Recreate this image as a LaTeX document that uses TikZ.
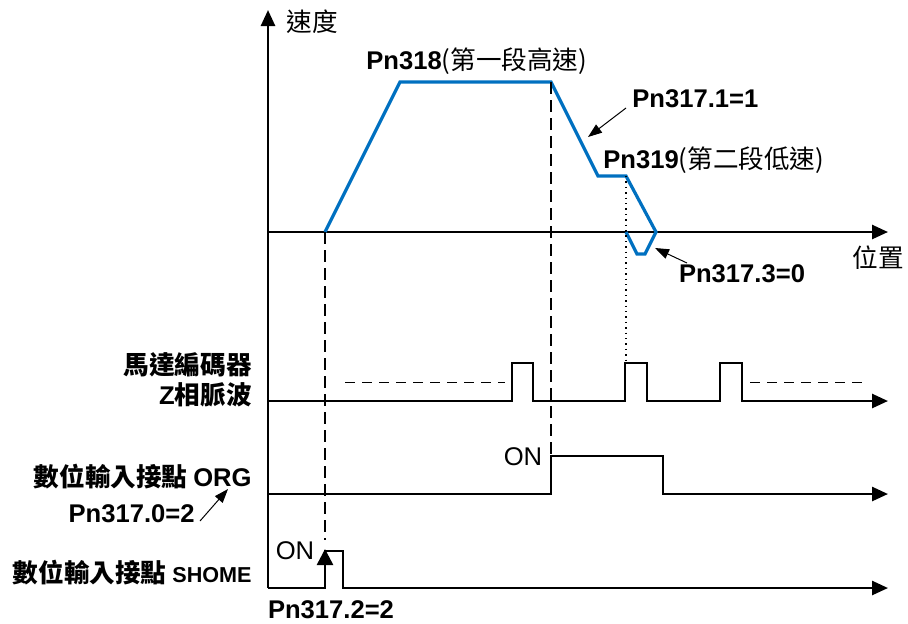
\documentclass[tikz,border=0pt]{standalone}
\usepackage{fontspec}
\setmainfont{Liberation Sans}
\newfontfamily\cjk{Noto Sans CJK TC}
\usetikzlibrary{arrows.meta}
\definecolor{speedblue}{RGB}{0,112,192}

\begin{document}
\begin{tikzpicture}[
        x=0.5pt,
        y=-0.5pt,
        axisline/.style={
            line width=1.3pt,
            -{Triangle[length=8pt,width=7pt]}
        },
        speedline/.style={
            line width=1.6pt,
            draw=speedblue
        },
        guideline/.style={
            line width=1pt,
            dash pattern=on 6pt off 3pt
        },
        levelline/.style={
            line width=0.5pt,
            dash pattern=on 5pt off 3.5pt
        },
        noteline/.style={
            line width=0.5pt,
            -{Triangle[length=7pt,width=5pt]}
        },
        pnlabel/.style={
            inner sep=0pt,
            font=\fontsize{12.8}{15}\selectfont\bfseries
        },
        sidelabel/.style={
            inner sep=0pt,
            align=right,
            anchor=east,
            font=\fontsize{12.8}{15}\selectfont\bfseries
        },
        onlabel/.style={
            inner sep=0pt,
            font=\fontsize{12.8}{15}\selectfont
        }
    ]
        \useasboundingbox (0,0) rectangle (908,623);

        % Speed axis
        \coordinate (origin) at (268,588);
        \coordinate (vtop) at (268,10);
        \coordinate (pstart) at (268,232);
        \coordinate (pend) at (888,232);
        \draw[axisline] (origin) -- (vtop);
        \draw[axisline] (pstart) -- (pend);
        \node[onlabel, font=\fontsize{12.8}{15}\selectfont\cjk] (speed) at (312,22) {速度};
        \node[onlabel, font=\fontsize{12.8}{15}\selectfont\cjk] (pos) at (878,258) {位置};

        % Speed profile
        \coordinate (go) at (325,232);
        \coordinate (hiA) at (400,82);
        \coordinate (hiB) at (551,82);
        \coordinate (loA) at (598,176);
        \coordinate (loB) at (626,176);
        \coordinate (cross) at (656,232);
        \coordinate (back) at (626,232);
        \draw[speedline] (go) -- (hiA) -- (hiB) -- (loA) -- (loB) -- (cross)
            -- (645,254) -- (637,254) -- (back);

        \node[pnlabel, anchor=west] (hilabel) at (366,61)
            {Pn318\mdseries\cjk(第一段高速)};
        \node[pnlabel, anchor=west] (lolabel) at (603,160)
            {Pn319\mdseries\cjk(第二段低速)};
        \node[pnlabel, anchor=west] (decellabel) at (632,99) {Pn317.1=1};
        \node[pnlabel] (revlabel) at (742,274) {Pn317.3=0};
        \coordinate (decel) at (588,137);
        \coordinate (rev) at (655,248);
        \draw[noteline] (626,108) -- (decel);
        \draw[noteline] (687,263) -- (rev);

        % Encoder Z pulse
        \coordinate (zstart) at (268,401);
        \coordinate (zend) at (888,401);
        \draw[axisline] (zstart) -- (512,401) -- (512,363) -- (533,363) -- (533,401)
            -- (625,401) -- (625,363) -- (647,363) -- (647,401)
            -- (720,401) -- (720,363) -- (742,363) -- (742,401) -- (zend);
        \draw[levelline] (345,382) -- (505,382);
        \draw[levelline] (750,382) -- (868,382);
        \node[sidelabel, font=\fontsize{12.8}{15}\selectfont\bfseries\cjk] (zlabel) at (252,380)
            {馬達編碼器\\\normalfont\bfseries Z\cjk 相脈波};

        % ORG input
        \coordinate (ostart) at (268,494);
        \coordinate (oend) at (888,494);
        \draw[axisline] (ostart) -- (551,494) -- (551,456) -- (663,456) -- (663,494) -- (oend);
        \node[onlabel] (oon) at (523,457) {ON};
        \node[sidelabel] (olabel) at (252,477) {\cjk 數位輸入接點 \normalfont\bfseries ORG};
        \node[sidelabel] (opn) at (195,514) {Pn317.0=2};
        \coordinate (otip) at (228,489);
        \draw[noteline] (200,521) -- (otip);

        % SHOME input
        \coordinate (sstart) at (268,588);
        \coordinate (send) at (888,588);
        \draw[axisline] (sstart) -- (325,588) -- (325,551) -- (343,551) -- (343,588) -- (send);
        \node[onlabel] (son) at (295,551) {ON};
        \node[sidelabel] (slabel) at (252,573)
            {\cjk 數位輸入接點 \normalfont\bfseries\fontsize{10.8}{12}\selectfont SHOME};
        \node[pnlabel] (spn) at (331,610) {Pn317.2=2};
        \coordinate (sbase) at (325,588);
        \coordinate (stip) at (325,549);
        \draw[line width=1.3pt, -{Triangle[length=8pt,width=8pt]}] (sbase) -- (stip);

        % Guide lines
        \draw[guideline] (go) -- (325,540);
        \draw[guideline] (hiB) -- (551,456);
        \draw[line width=0.7pt, dotted] (loB) -- (626,363);

    \end{tikzpicture}
\end{document}
